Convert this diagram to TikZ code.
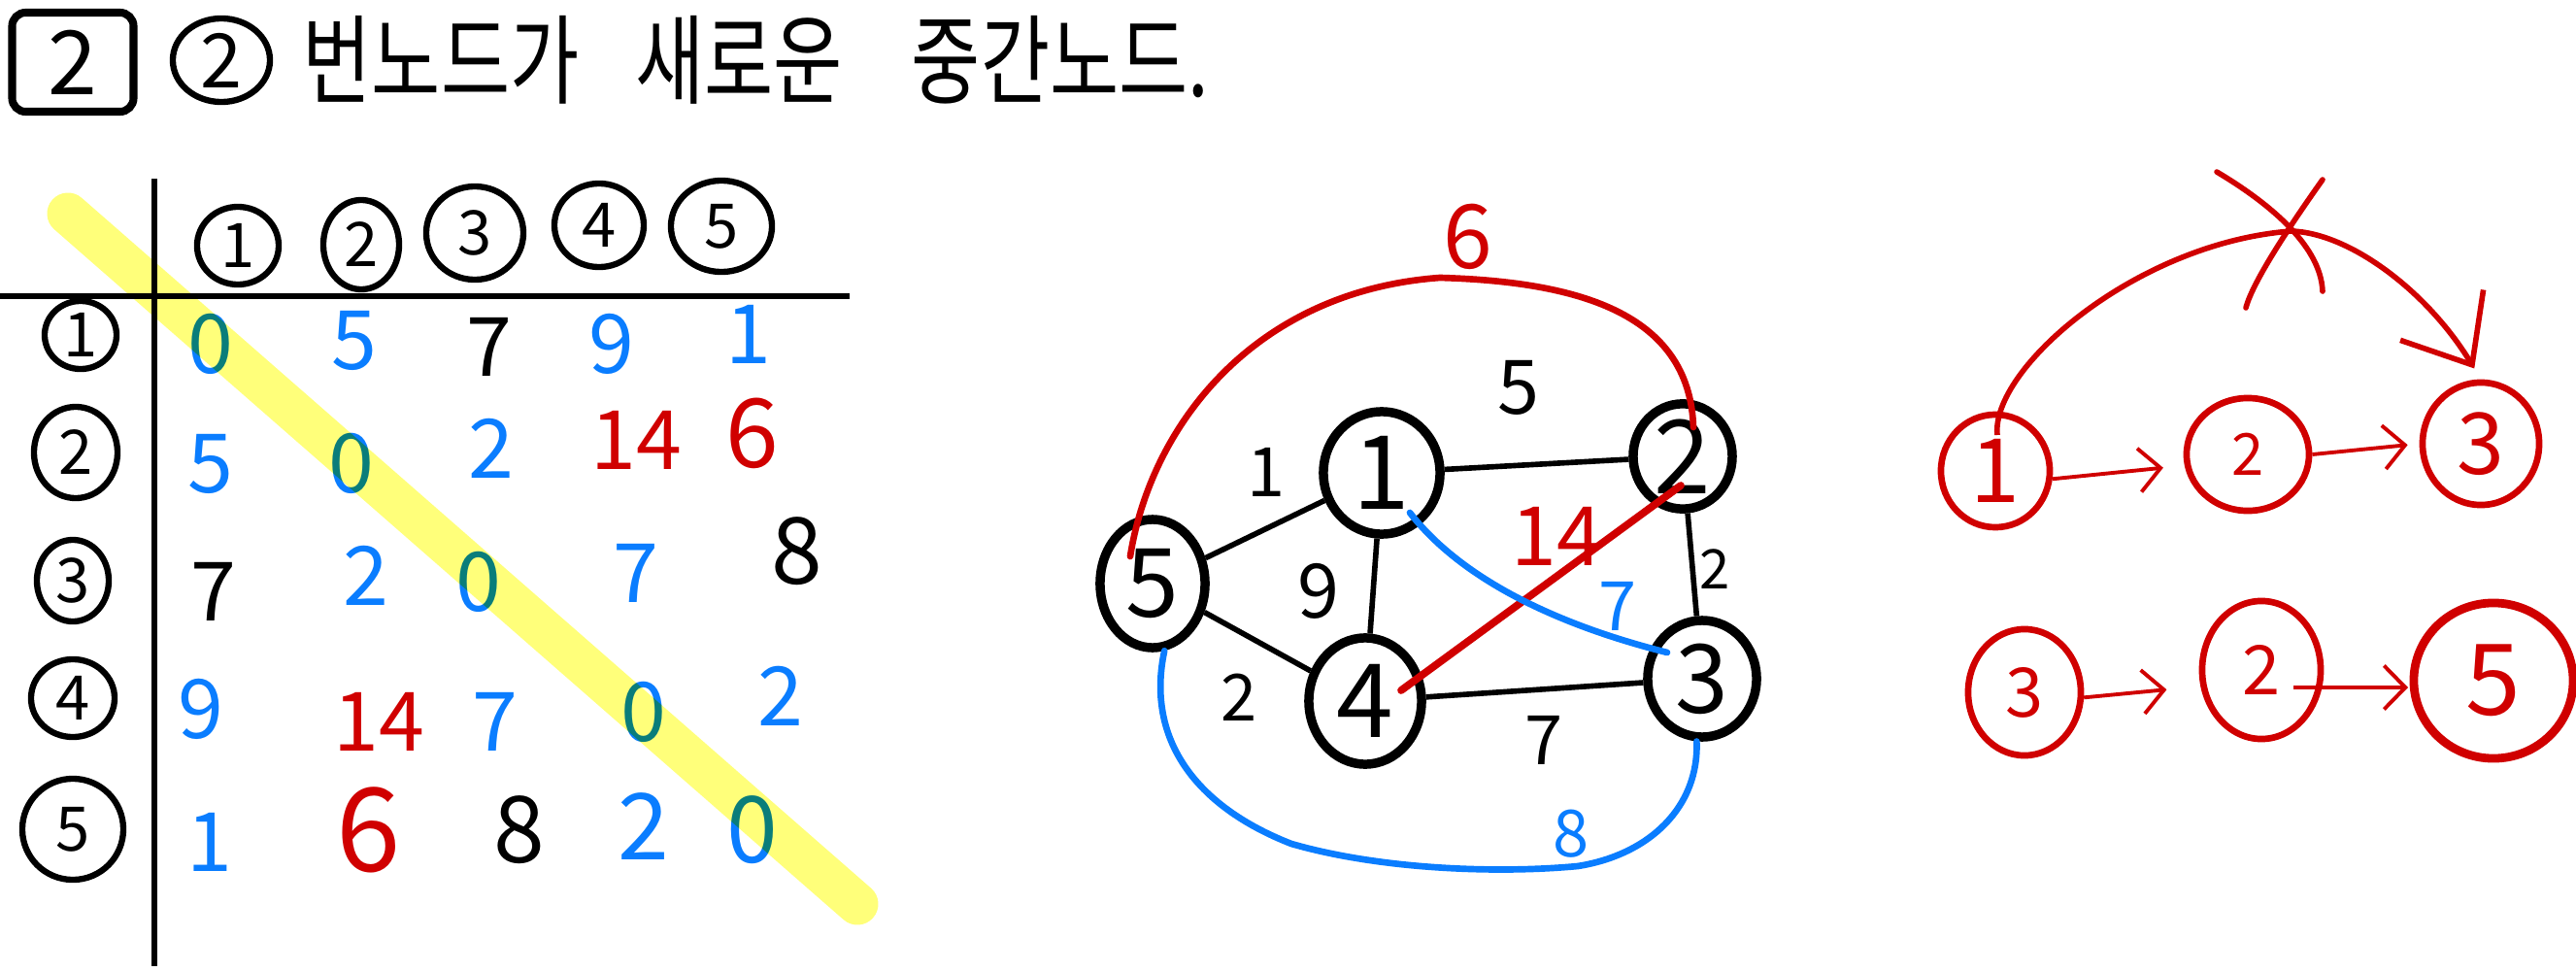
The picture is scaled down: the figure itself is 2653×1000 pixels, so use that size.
\documentclass[tikz,border=0pt]{standalone}
\usepackage{fontspec}
\setmainfont{Noto Sans CJK KR}
\usetikzlibrary{shapes.geometric,arrows.meta}
\definecolor{hblue}{RGB}{10,125,255}
\definecolor{hred}{RGB}{208,0,0}
\definecolor{hyellow}{RGB}{255,255,122}
\begin{document}
\begin{tikzpicture}[x=0.01cm,y=-0.01cm,
  fs/.style={font=\fontsize{#1}{#1}\selectfont},
  oval/.style 2 args={ellipse, draw, inner sep=0pt, minimum width=#1*0.02cm, minimum height=#2*0.02cm},
  hdr/.style={line width=1.8pt},
  gnode/.style={line width=2.7pt},
  gedge/.style={line width=1.6pt},
  rnode/.style={draw=hred, text=hred, line width=1.9pt},
  redarrow/.style={hred, line width=1.1pt, -{Straight Barb[length=0.22cm,width=0.45cm]}},
  val/.style={fs=24},
  bl/.style={text=hblue},
  rd/.style={text=hred},
  ttl/.style={fs=22, yscale=1.3, transform shape},
]
\fill[white] (0,0) rectangle (2653,1000);
\useasboundingbox (0,0) rectangle (2653,1000);

% ---- title ----
\node[draw, rectangle, line width=2.3pt, rounded corners=4pt, minimum width=1.25cm, minimum height=1.02cm, fs=26] (tbox) at (75,64) {2};
\node[oval={50}{43}, hdr, fs=22] (tcirc) at (228,62) {2};
\node[ttl] (tw1) at (454,62) {번노드가};
\node[ttl] (tw2) at (761,62) {새로운};
\node[ttl] (tw3) at (1092,62) {중간노드.};

% ---- matrix ----
\draw[line width=1.7pt] (0,305) -- (875,305);
\draw[line width=1.7pt] (159,184) -- (159,995);

\node[oval={42}{40}, hdr, fs=18] (c1) at (245,253) {1};
\node[oval={39}{46}, hdr, fs=18] (c2) at (372,252) {2};
\node[oval={50}{48}, hdr, fs=18] (c3) at (489,240) {3};
\node[oval={46}{43}, hdr, fs=18] (c4) at (617,232) {4};
\node[oval={52}{47}, hdr, fs=18] (c5) at (743,233) {5};

\node[oval={37}{35}, hdr, fs=18] (v1) at (83,345) {1};
\node[oval={43}{47}, hdr, fs=18] (v2) at (78,466) {2};
\node[oval={37}{42}, hdr, fs=18] (v3) at (75,598) {3};
\node[oval={43}{40}, hdr, fs=18] (v4) at (75,719) {4};
\node[oval={52}{52}, hdr, fs=18] (v5) at (75,854) {5};

\node[val,bl] (m11) at (217,354) {0};
\node[val,bl] (m12) at (365,351) {5};
\node[val]    (m13) at (504,357) {7};
\node[val,bl] (m14) at (630,354) {9};
\node[val,bl] (m15) at (771,344) {1};

\node[val,bl] (m21) at (217,478) {5};
\node[val,bl] (m22) at (362,477) {0};
\node[val,bl] (m23) at (506,462) {2};
\node[val,rd] (m24) at (655,453) {14};
\node[val,rd,fs=28] (m25) at (775,446) {6};

\node[val]    (m31) at (220,609) {7};
\node[val,bl] (m32) at (377,593) {2};
\node[val,bl] (m33) at (493,599) {0};
\node[val,bl] (m34) at (655,590) {7};
\node[val,fs=27] (m35) at (821,568) {8};

\node[val,bl] (m41) at (207,730) {9};
\node[val,rd] (m42) at (390,743) {14};
\node[val,bl] (m43) at (510,743) {7};
\node[val,bl] (m44) at (663,733) {0};
\node[val,bl] (m45) at (804,717) {2};

\node[val,bl] (m51) at (216,867) {1};
\node[val,rd,fs=34] (m52) at (380,855) {6};
\node[val,fs=27] (m53) at (535,855) {8};
\node[val,bl,fs=27] (m54) at (663,851) {2};
\node[val,bl,fs=27] (m55) at (775,855) {0};

\draw[hyellow, line width=0.43cm, line cap=round, blend mode=multiply] (70,220) -- (883,931);

% ---- graph ----
\node[oval={60}{63}, gnode, fs=30] (g1) at (1423,487) {1};
\node[oval={51}{54}, gnode, fs=30] (g2) at (1733,470) {2};
\node[oval={56}{60}, gnode, fs=28] (g3) at (1753,699) {3};
\node[oval={58}{65}, gnode, fs=30] (g4) at (1406,722) {4};
\node[oval={54}{66}, gnode, fs=28] (g5) at (1187,601) {5};

\draw[gedge] (g5) -- (g1);
\draw[gedge] (g1) -- (g2);
\draw[gedge] (g1) -- (g4);
\draw[gedge] (g5) -- (g4);
\draw[gedge] (g2) -- (g3);
\draw[gedge] (g4) -- (g3);

\draw[hred, line width=1.9pt, line cap=round] ([shift={(-23,-28)}]g5.center) .. controls (1185,440) and (1290,300) .. (1483,286) .. controls (1620,290) and (1740,320) .. ([shift={(11,-30)}]g2.center);
\draw[hred, line width=2.2pt, line cap=round] ([shift={(37,-11)}]g4.center) -- ([shift={(-2,30)}]g2.center);
\draw[hblue, line width=1.9pt, line cap=round] ([shift={(29,41)}]g1.center) .. controls (1500,590) and (1590,640) .. ([shift={(-36,-27)}]g3.center);
\draw[hblue, line width=1.9pt, line cap=round] (g5.-80) .. controls (1180,760) and (1230,830) .. (1330,869) .. controls (1420,895) and (1540,900) .. (1625,892) .. controls (1700,880) and (1750,830) .. (g3.-95);

\node[fs=26, text=hred] (l6) at (1512,244) {6};
\node[fs=22] (l5) at (1564,399) {5};
\node[fs=20] (l1) at (1304,486) {1};
\node[fs=24, text=hred] (l14) at (1603,552) {14};
\node[fs=22] (l9) at (1358,609) {9};
\node[fs=16] (l2r) at (1766,586) {2};
\node[fs=20, text=hblue] (l7b) at (1666,624) {7};
\node[fs=19] (l2l) at (1276,718) {2};
\node[fs=20] (l7) at (1590,762) {7};
\node[fs=19, text=hblue] (l8) at (1618,859) {8};

% ---- paths ----
\node[oval={56}{58}, rnode, fs=26] (r1) at (2055,485) {1};
\node[oval={63}{58}, rnode, fs=17] (r2) at (2315,468) {2};
\node[oval={60}{63}, rnode, fs=25] (r3) at (2555,457) {3};

\node[oval={58}{65}, rnode, fs=20] (s3) at (2085,713) {3};
\node[oval={61}{71}, rnode, fs=20] (s2) at (2329,690) {2};
\node[oval={82}{80}, rnode, line width=2.5pt, fs=29] (s5) at (2568,701) {5};

\draw[redarrow, shorten >=0.22cm] (r1.-8) -- (r2.190);
\draw[redarrow, shorten >=0.12cm] (r2.0) -- (r3.180);
\draw[redarrow, shorten >=0.35cm] (s3.-5) -- (s2.195);
\draw[redarrow] ([shift={(33,18)}]s2.center) -- ([shift={(-88,7)}]s5.center);

\draw[hred, line width=1.6pt, shorten >=0.13cm, -{Straight Barb[length=0.6cm,width=1.0cm]}] ([shift={(2,-37)}]r1.center) .. controls (2050,380) and (2200,250) .. (2360,238) .. controls (2420,240) and (2500,300) .. (r3.north);
\draw[hred, line width=1.6pt, line cap=round] (2283,177) .. controls (2330,205) and (2390,250) .. (2392,300);
\draw[hred, line width=1.6pt, line cap=round] (2392,185) .. controls (2360,230) and (2320,290) .. (2313,317);
\end{tikzpicture}
\end{document}
